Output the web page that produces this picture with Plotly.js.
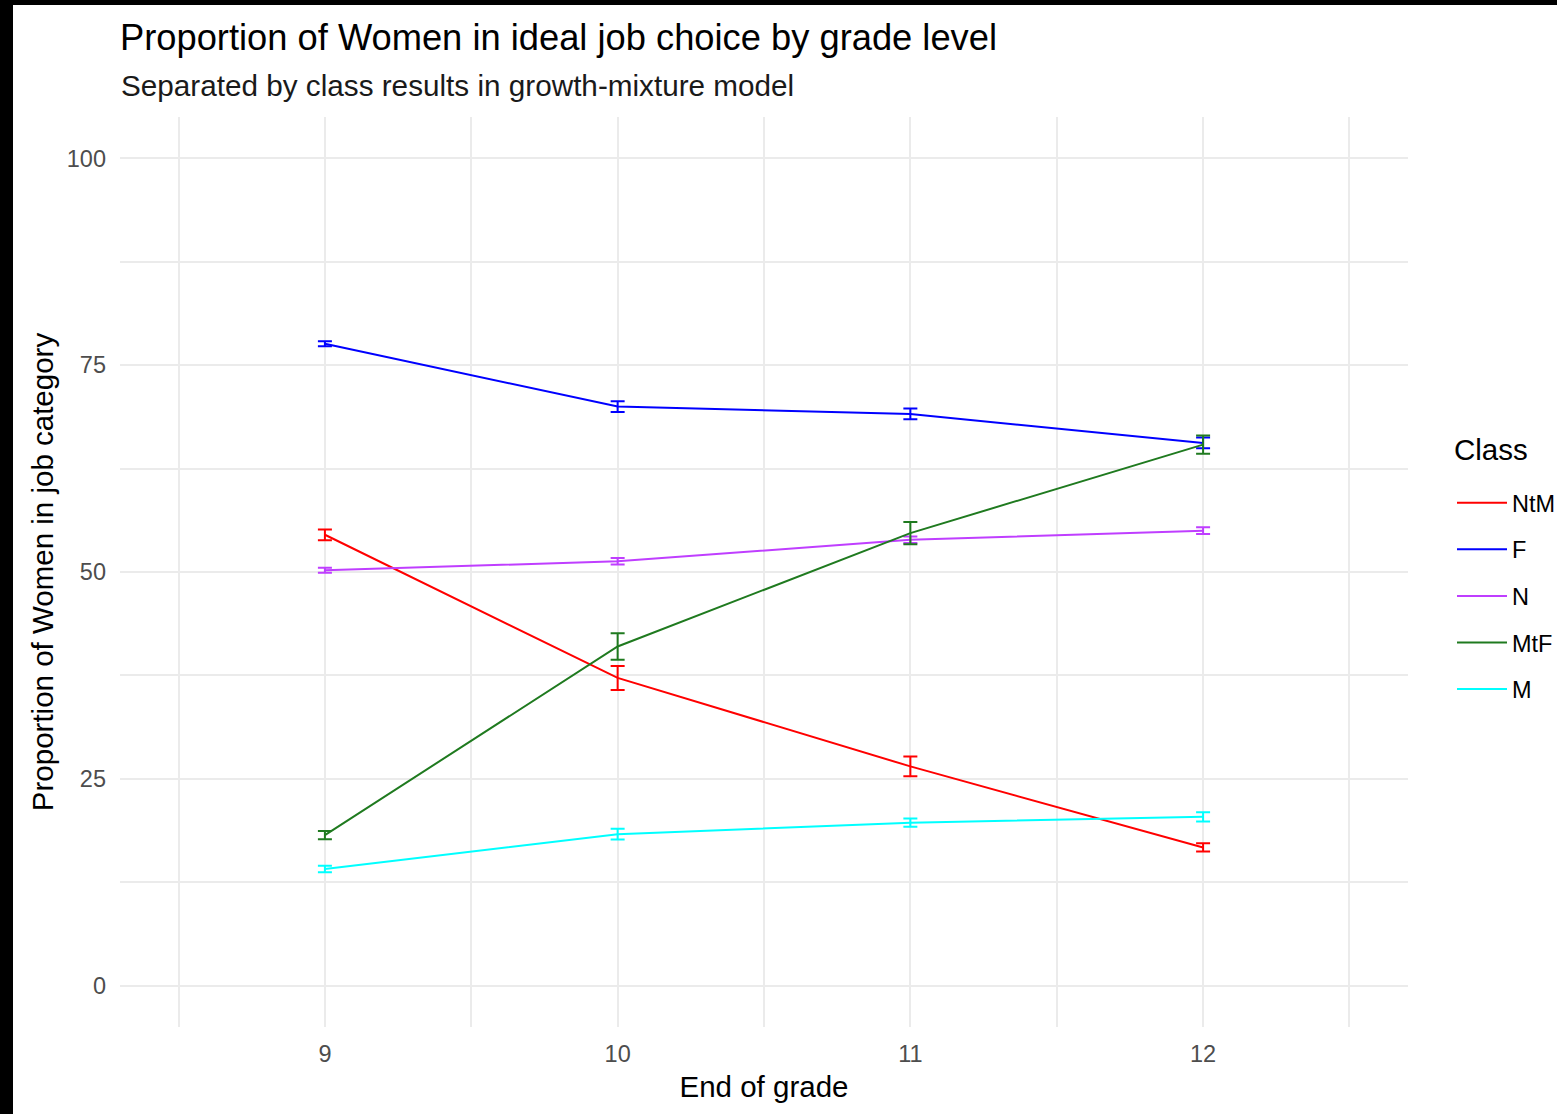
<!DOCTYPE html>
<html>
<head>
<meta charset="utf-8">
<script src="https://cdn.plot.ly/plotly-3.0.1.min.js"></script>
<style>
  html, body { margin: 0; padding: 0; background: #000; overflow: hidden; width: 1557px; height: 1114px; }
  #chart { position: absolute; left: 13px; top: 5px; width: 1580px; height: 1109px; background: #fff; }
</style>
</head>
<body>
<div id="chart"></div>
<script>
// Data
const grades = [9, 10, 11, 12];
const gradeLabels = ["9", "10", "11", "12"];
const classNames = ["NtM", "F", "N", "MtF", "M"];
const classColors = ["#FF0000", "#0000FF", "#BF3EFF", "#1F7A1F", "#00FFFF"];

const valNtM = [54.5, 37.2, 26.5, 16.7];
const errNtM = [0.65, 1.45, 1.2, 0.5];
const valF   = [77.6, 70.0, 69.1, 65.6];
const errF   = [0.3, 0.65, 0.65, 0.65];
const valN   = [50.2, 51.3, 53.9, 55.0];
const errN   = [0.3, 0.4, 0.4, 0.4];
const valMtF = [18.2, 41.0, 54.7, 65.4];
const errMtF = [0.5, 1.6, 1.35, 1.1];
const valM   = [14.1, 18.3, 19.7, 20.4];
const errM   = [0.4, 0.65, 0.5, 0.55];

const yTicks = [0, 25, 50, 75, 100];

const titleText = "Proportion of Women in ideal job choice by grade level";
const subtitleText = "Separated by class results in growth-mixture model";
const legendTitle = "Class";

const values = [valNtM, valF, valN, valMtF, valM];
const errors = [errNtM, errF, errN, errMtF, errM];

const FONT = "Liberation Sans, Arial, sans-serif";

const traces = classNames.map((name, i) => ({
  type: "scatter",
  mode: "lines",
  name: name,
  legendgroup: name,
  x: grades,
  y: values[i],
  line: { color: classColors[i], width: 2 },
  error_y: { type: "data", array: errors[i], visible: true, color: classColors[i], thickness: 2, width: 7 },
  hoverinfo: "x+y+name"
}));

const W = 1580, H = 1109;
const ML = 107, MR = W - 1395, MT = 112, MB = 87;
const PW = W - ML - MR, PH = H - MT - MB;

const layout = {
  width: W,
  height: H,
  paper_bgcolor: "#ffffff",
  plot_bgcolor: "#ffffff",
  font: { family: FONT, color: "#000000" },
  margin: { l: ML, r: MR, t: MT, b: MB },
  title: {
    text: titleText,
    font: { family: FONT, size: 36.3, color: "#000000" },
    x: 0, xref: "paper", xanchor: "left",
    y: 1 - 32 / H, yref: "container", yanchor: "middle"
  },
  annotations: [
    {
      text: subtitleText,
      xref: "paper", yref: "paper",
      x: 0, xanchor: "left", xshift: -1,
      y: 1 + 31 / PH, yanchor: "middle",
      showarrow: false,
      font: { family: FONT, size: 29.7, color: "#1a1a1a" }
    },
    {
      text: legendTitle,
      xref: "paper", yref: "paper",
      x: 1 + (1439 - 1395) / PW, xanchor: "left",
      y: 1 - (444 - MT) / PH, yanchor: "middle",
      showarrow: false,
      font: { family: FONT, size: 29.5, color: "#000000" }
    }
  ],
  xaxis: {
    range: [8.3, 12.7],
    tickmode: "array",
    tickvals: grades,
    ticktext: gradeLabels,
    showgrid: true,
    gridcolor: "#EBEBEB",
    gridwidth: 2,
    zeroline: false,
    showline: false,
    ticks: "",
    ticklabelstandoff: 10,
    tickfont: { family: FONT, size: 23.5, color: "#4D4D4D" },
    minor: { tickvals: [8.5, 9.5, 10.5, 11.5, 12.5], showgrid: true, gridcolor: "#EBEBEB", gridwidth: 1.5, ticks: "" },
    title: { text: "End of grade", font: { family: FONT, size: 29.5, color: "#000000" }, standoff: 10 },
    fixedrange: true
  },
  yaxis: {
    range: [-5, 105],
    tickmode: "array",
    tickvals: yTicks,
    ticktext: yTicks.map(String),
    showgrid: true,
    gridcolor: "#EBEBEB",
    gridwidth: 2,
    zeroline: false,
    showline: false,
    ticks: "",
    ticklabelstandoff: 13,
    tickfont: { family: FONT, size: 23.5, color: "#4D4D4D" },
    minor: { tickvals: [12.5, 37.5, 62.5, 87.5], showgrid: true, gridcolor: "#EBEBEB", gridwidth: 1.5, ticks: "" },
    title: { text: "Proportion of Women in job category", font: { family: FONT, size: 29.5, color: "#000000" }, standoff: 4 },
    fixedrange: true
  },
  showlegend: true,
  legend: {
    x: 1 + (1439 - 1395) / PW, xanchor: "left",
    y: 1 - (591 - MT) / PH, yanchor: "middle",
    bgcolor: "rgba(0,0,0,0)",
    borderwidth: 0,
    itemwidth: 50,
    font: { family: FONT, size: 23.5, color: "#000000" },
    tracegroupgap: 13,
    traceorder: "grouped"
  }
};

Plotly.newPlot("chart", traces, layout, { displayModeBar: false });
</script>
</body>
</html>
